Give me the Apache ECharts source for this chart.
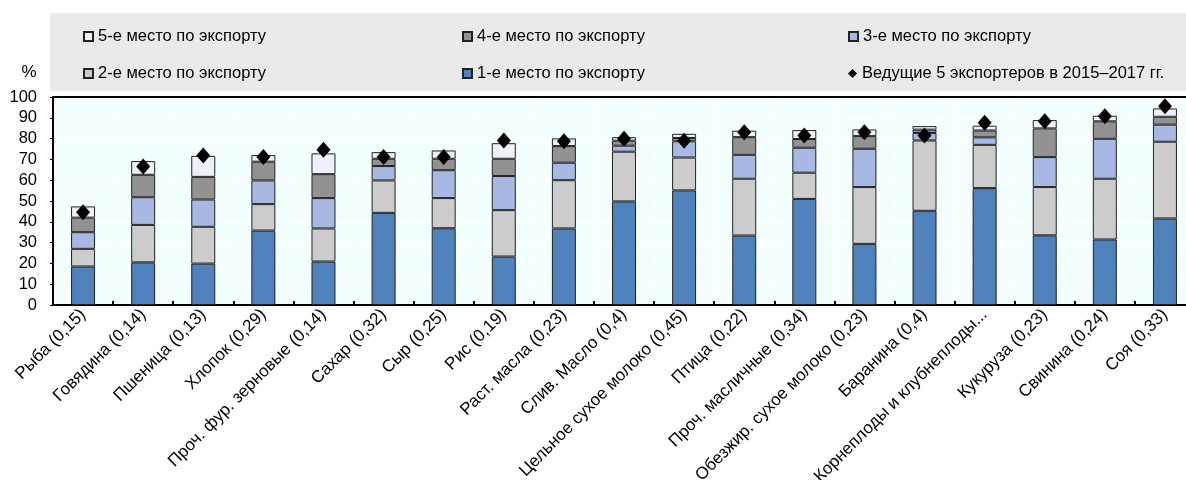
<!DOCTYPE html>
<html>
<head>
<meta charset="utf-8">
<script src="https://cdn.jsdelivr.net/npm/echarts@6/dist/echarts.min.js"></script>
<style>
html,body{margin:0;padding:0;background:#fff;}
#chart{width:1186px;height:480px;}
</style>
</head>
<body>
<div id="chart"></div>
<script>
const categories = ['Рыба (0,15)','Говядина (0,14)','Пшеница (0,13)','Хлопок (0,29)','Проч. фур. зерновые (0,14)','Сахар (0,32)','Сыр (0,25)','Рис (0,19)','Раст. масла (0,23)','Слив. Масло (0,4)','Цельное сухое молоко (0,45)','Птица (0,22)','Проч. масличные (0,34)','Обезжир. сухое молоко (0,23)','Баранина (0,4)','Корнеплоды и клубнеплоды...','Кукуруза (0,23)','Свинина (0,24)','Соя (0,33)'];
const first  = [18.5,20.5,19.9,35.8,20.9,44.3,36.9,23.3,36.8,49.8,55.1,33.4,51.0,29.4,45.3,56.2,33.5,31.5,41.6];
const second = [8.5,18.0,17.7,12.7,15.9,15.6,14.5,22.3,23.2,23.9,15.8,27.3,12.6,27.3,33.8,20.8,23.2,29.2,36.9];
const third  = [8.0,13.3,13.1,11.4,14.6,6.9,13.4,16.4,8.4,2.9,7.8,11.5,12.0,18.4,3.6,3.6,14.4,19.2,8.2];
const fourth = [7.0,10.8,10.9,9.0,11.5,3.5,5.5,8.3,8.0,2.4,1.6,8.5,4.2,6.1,1.6,3.3,13.8,8.4,3.8];
const fifth  = [5.4,6.6,10.1,3.2,10.0,3.2,4.0,7.5,3.7,1.7,2.0,3.1,4.3,3.2,1.7,2.3,4.0,2.7,4.0];
const top5_2015_2017 = [44.6,66.6,71.9,71.1,74.6,71.1,71.1,79.1,78.7,79.9,79.0,83.1,81.5,83.1,81.5,87.6,88.3,90.7,95.5];
const yTicks = [0,10,20,30,40,50,60,70,80,90,100];

const names = ['1-е место по экспорту','2-е место по экспорту','3-е место по экспорту','4-е место по экспорту','5-е место по экспорту','Ведущие 5 экспортеров в 2015–2017 гг.'];
const colors = ['#4F81BD','#CCCCCC','#A7B9E3','#929292','#EEF1FA'];
const values = [first, second, third, fourth, fifth];
const FONT = '"Liberation Sans", Arial, sans-serif';

const chart = echarts.init(document.getElementById('chart'), null, {renderer:'canvas'});

const series = values.map((v,i)=>({
  name: names[i], type:'bar', stack:'s', data:v, barWidth:24,
  itemStyle:{color:colors[i], borderColor:'#222', borderWidth:1},
  emphasis:{disabled:true}
}));
series.push({
  name: names[5], type:'scatter', data: top5_2015_2017, symbol:'diamond', symbolSize:[14,16],
  itemStyle:{color:'#000', opacity:1}, z:5, emphasis:{disabled:true}
});

function mkLegend(name, left, top, icon){
  return {data:[{name:name, icon:icon}], left:left, top:top, itemWidth:9, itemHeight:9, itemGap:0,
    textStyle:{fontFamily:FONT, fontSize:16.5, color:'#000', padding:[0,0,0,0]}, padding:0, selectedMode:false};
}
const legends = [
  mkLegend(names[4], 83, 28, 'rect'),
  mkLegend(names[3], 462, 28, 'rect'),
  mkLegend(names[2], 848, 28, 'rect'),
  mkLegend(names[1], 83, 65, 'rect'),
  mkLegend(names[0], 462, 65, 'rect'),
  mkLegend(names[5], 848, 65, 'diamond')
];

chart.setOption({
  animation:false,
  backgroundColor:'#fff',
  graphic:[
    {type:'rect', shape:{x:50, y:13, width:1200, height:78}, style:{fill:'#EAEAEA'}, z:-10, silent:true},
    {type:'text', x:29, y:72, style:{text:'%', fontFamily:FONT, fontSize:17, fill:'#000', align:'center', verticalAlign:'middle'}}
  ],
  legend: legends,
  grid:{left:53, top:97, width:1142, height:208, show:true, backgroundColor:'#F4FFFF', borderWidth:0, outerBoundsMode:'none', containLabel:false},
  xAxis:[{
    type:'category', data:categories,
    axisLine:{show:true, lineStyle:{color:'#000', width:2}},
    axisTick:{show:true, inside:true, length:4, lineStyle:{color:'#000', width:2}},
    splitLine:{show:true, lineStyle:{color:'#fff', width:1}},
    axisLabel:{interval:0, rotate:45, fontFamily:FONT, fontSize:17, color:'#000', margin:7}
  },{
    type:'category', data:categories, position:'top',
    axisLine:{show:true, lineStyle:{color:'#000', width:2}},
    axisTick:{show:false}, axisLabel:{show:false}, splitLine:{show:false}
  }],
  yAxis:{
    type:'value', min:0, max:100, interval:10,
    axisLine:{show:true, lineStyle:{color:'#000', width:2}},
    axisTick:{show:true, length:3, lineStyle:{color:'#000'}},
    splitLine:{show:true, lineStyle:{color:'#fff', width:1}},
    axisLabel:{fontFamily:FONT, fontSize:16.5, color:'#000', margin:16,
      formatter:function(v){ return yTicks.indexOf(v)>=0 ? String(v) : ''; }}
  },
  series: series
});
</script>
</body>
</html>
